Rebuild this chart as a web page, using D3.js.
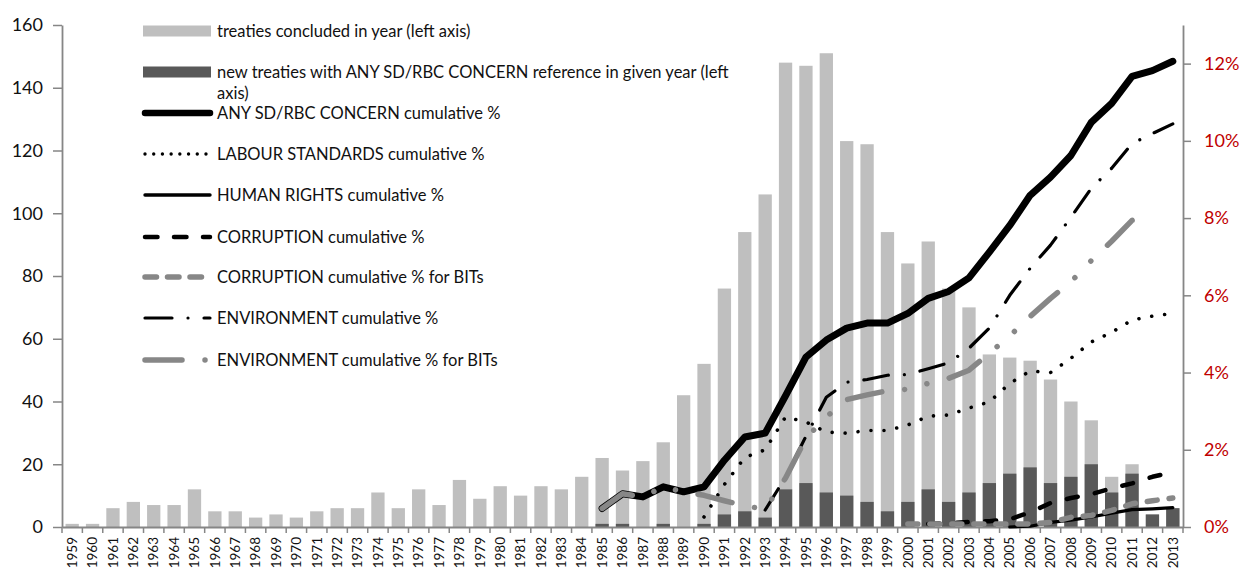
<!DOCTYPE html>
<html>
<head>
<meta charset="utf-8">
<script src="https://cdn.jsdelivr.net/npm/d3@7/dist/d3.min.js"></script>
<style>
  html, body { margin: 0; padding: 0; background: #fff; }
  svg { display: block; }
  text { font-family: Lato, "Liberation Sans", sans-serif; }
</style>
</head>
<body>
<div id="chart"></div>
<script>
// ---------------- DATA ----------------
const years = [1959,1960,1961,1962,1963,1964,1965,1966,1967,1968,1969,1970,1971,1972,1973,1974,1975,1976,1977,1978,
  1979,1980,1981,1982,1983,1984,1985,1986,1987,1988,1989,1990,1991,1992,1993,1994,1995,1996,1997,1998,
  1999,2000,2001,2002,2003,2004,2005,2006,2007,2008,2009,2010,2011,2012,2013];

// treaties concluded in year (left axis)
const treatiesTotal = [1,1,6,8,7,7,12,5,5,3, 4,3,5,6,6,11,6,12,7,15, 9,13,10,13,12,16,22,18,21,27,
  42,52,76,94,106,148,147,151,123,122, 94,84,91,76,70,55,54,53,47,40, 34,16,20,4,6];

// new treaties with ANY SD/RBC CONCERN reference in given year (left axis)
const treatiesSD = [0,0,0,0,0,0,0,0,0,0, 0,0,0,0,0,0,0,0,0,0, 0,0,0,0,0,0,1,1,0,1,
  0,1,4,5,3,12,14,11,10,8, 5,8,12,8,11,14,17,19,14,16, 20,11,17,4,6];

// cumulative % series (right axis), each with its first year
const anyStart = 1985;
const anyPct = [0.48,0.86,0.78,1.04,0.91,1.04,1.73,2.33,2.43,3.4,4.4,4.84,5.15,5.28,5.28,5.53,5.92,6.1,6.45,7.12,
  7.81,8.59,9.06,9.62,10.48,10.97,11.67,11.82,12.06];

const labourStart = 1990;
const labourPct = [0.26,1.1,1.8,2.0,2.85,2.72,2.46,2.43,2.5,2.5,2.64,2.87,2.9,3.08,3.24,3.72,4.04,4.0,4.37,4.79,
  5.04,5.36,5.46,5.53];

const humanStart = 2005;
const humanPct = [0,0.02,0.12,0.18,0.26,0.36,0.45,0.47,0.5];

const corrStart = 2001;
const corrPct = [0.08,0.1,0.13,0.15,0.2,0.38,0.62,0.75,0.85,1.0,1.13,1.3,1.42];

const corrBitsStart = 2000;
const corrBitsPct = [0.08,0.08,0.08,0.08,0.08,0.08,0.08,0.12,0.25,0.3,0.43,0.6,0.68,0.75];

const envStart = 1993;
const envPct = [0.44,1.29,2.35,3.36,3.75,3.82,3.93,3.95,4.1,4.25,4.63,5.15,6.0,6.7,7.3,8.02,8.77,9.29,9.93,10.19,10.44];

const envBitsStart = 1985;
const envBitsPct = [0.48,0.86,0.78,1.04,0.91,0.82,0.68,0.55,0.46,1.27,2.3,2.85,3.3,3.42,3.53,3.57,3.72,3.85,4.06,4.5,
  4.95,5.45,5.92,6.35,6.9,7.4,7.94,8.1];

const leftTicks = [0,20,40,60,80,100,120,140,160];
const rightTicks = [0,2,4,6,8,10,12];

const legendLabels = [
  "treaties concluded in year (left axis)",
  ["new treaties with ANY SD/RBC CONCERN reference in given year (left", "axis)"],
  "ANY SD/RBC CONCERN cumulative %",
  "LABOUR STANDARDS cumulative %",
  "HUMAN RIGHTS cumulative %",
  "CORRUPTION cumulative %",
  "CORRUPTION cumulative % for BITs",
  "ENVIRONMENT cumulative %",
  "ENVIRONMENT cumulative % for BITs"
];

// ---------------- CHART ----------------
const W = 1241, H = 570;
const svg = d3.select("#chart").append("svg").attr("width", W).attr("height", H);
svg.append("rect").attr("width", W).attr("height", H).attr("fill", "#fff");

const plotL = 62, plotR = 1183, plotT = 25, plotB = 527;
const x = d3.scaleBand().domain(years).range([plotL, plotR]).paddingInner(0).paddingOuter(0);
const yL = d3.scaleLinear().domain([0, 160]).range([plotB, plotT]);
const yR = d3.scaleLinear().domain([0, 13]).range([plotB, plotT]);
const barW = 13.3;
const cx = yr => x(yr) + x.bandwidth() / 2;

const axisColor = "#868686";
const lightBar = "#bfbfbf", darkBar = "#595959", grayLine = "#878787";
const textColor = "#111";

// bars
svg.append("g").selectAll("rect").data(years).join("rect")
  .attr("x", d => cx(d) - barW / 2)
  .attr("width", barW)
  .attr("y", (d, i) => yL(treatiesTotal[i]))
  .attr("height", (d, i) => yL(0) - yL(treatiesTotal[i]))
  .attr("fill", lightBar);

svg.append("g").selectAll("rect").data(years).join("rect")
  .attr("x", d => cx(d) - barW / 2)
  .attr("width", barW)
  .attr("y", (d, i) => yL(treatiesSD[i]))
  .attr("height", (d, i) => yL(0) - yL(treatiesSD[i]))
  .attr("fill", darkBar);

// axes
const gL = svg.append("g").attr("transform", `translate(${plotL},0)`)
  .call(d3.axisLeft(yL).tickValues(leftTicks).tickSize(9).tickSizeOuter(0).tickPadding(10));
gL.selectAll("text").attr("font-size", 18).attr("fill", textColor).attr("font-family", "Lato");

const gR = svg.append("g").attr("transform", `translate(${plotR},0)`)
  .call(d3.axisRight(yR).tickValues(rightTicks).tickSize(8).tickSizeOuter(0).tickPadding(13)
    .tickFormat(d => d + "%"));
gR.selectAll("text").attr("font-size", 18).attr("fill", "#c00000").attr("font-family", "Lato");

const gX = svg.append("g").attr("transform", `translate(0,${plotB})`)
  .call(d3.axisBottom(x).tickSize(0).tickSizeOuter(0));
gX.selectAll("text")
  .attr("transform", "rotate(-90)")
  .attr("x", -10).attr("y", 0).attr("dy", "0.35em")
  .attr("text-anchor", "end")
  .attr("font-size", 13.5).attr("fill", textColor).attr("font-family", "Lato");
// tick marks at category boundaries
gX.append("g").selectAll("line").data(years.concat([null])).join("line")
  .attr("x1", (d, i) => plotL + i * x.step())
  .attr("x2", (d, i) => plotL + i * x.step())
  .attr("y1", 0).attr("y2", 6)
  .attr("stroke", axisColor).attr("stroke-width", 1.5);

[gL, gR, gX].forEach(g => {
  g.select(".domain").attr("stroke", axisColor).attr("stroke-width", 1.8);
  g.selectAll(".tick line").attr("stroke", axisColor).attr("stroke-width", 1.5);
});

// lines
const line = d3.line().x(d => cx(d[0])).y(d => yR(d[1]));
const series = (start, vals) => vals.map((v, i) => [start + i, v]);

const lineStyles = [
  { data: series(anyStart, anyPct), color: "#000", w: 7, dash: null },
  { data: series(labourStart, labourPct), color: "#000", w: 3.6, dash: "0.01,13" },
  { data: series(humanStart, humanPct), color: "#000", w: 3.2, dash: null },
  { data: series(corrStart, corrPct), color: "#000", w: 4.5, dash: "11,17.5" },
  { data: series(corrBitsStart, corrBitsPct), color: grayLine, w: 5.5, dash: "10,12" },
  { data: series(envStart, envPct), color: "#000", w: 3.2, dash: "25,16,0.01,16" },
  { data: series(envBitsStart, envBitsPct), color: grayLine, w: 5.5, dash: "35,23,0.01,23,0.01,23" }
];

const gLines = svg.append("g");
lineStyles.forEach(s => {
  gLines.append("path")
    .attr("d", line(s.data))
    .attr("fill", "none")
    .attr("stroke", s.color)
    .attr("stroke-width", s.w)
    .attr("stroke-linejoin", "round")
    .attr("stroke-linecap", "round")
    .attr("stroke-dasharray", s.dash);
});

// legend
const legX0 = 143, legX1 = 211, legTextX = 217;
const legRows = [31, 72, 113, 154, 195, 237, 277, 318, 360];
const legFont = 16.5;
const legendMarkers = [
  { type: "rect", color: lightBar },
  { type: "rect", color: darkBar },
  { type: "line", color: "#000", w: 6.5, dash: null },
  { type: "line", color: "#000", w: 3.4, dash: "0.01,8.7" },
  { type: "line", color: "#000", w: 3.4, dash: null },
  { type: "line", color: "#000", w: 4.5, dash: "12.5,16.5" },
  { type: "line", color: grayLine, w: 5.5, dash: "11.5,11" },
  { type: "line", color: "#000", w: 3.2, dash: "27,16,0.01,16" },
  { type: "line", color: grayLine, w: 5.5, dash: "37,23,0.01,23" }
];
const gLeg = svg.append("g");
legendMarkers.forEach((m, i) => {
  const yy = legRows[i];
  if (m.type === "rect") {
    gLeg.append("rect").attr("x", legX0).attr("y", yy - 5.5).attr("width", legX1 - legX0).attr("height", 11)
      .attr("fill", m.color);
  } else {
    gLeg.append("line").attr("x1", legX0 + 2).attr("x2", legX1 - 1).attr("y1", yy).attr("y2", yy)
      .attr("stroke", m.color).attr("stroke-width", m.w).attr("stroke-linecap", "round")
      .attr("stroke-dasharray", m.dash);
  }
  const lab = legendLabels[i];
  const t = gLeg.append("text").attr("x", legTextX).attr("y", yy).attr("dy", "0.36em")
    .attr("font-size", legFont).attr("fill", textColor);
  if (Array.isArray(lab)) {
    t.text(lab[0]);
    gLeg.append("text").attr("x", legTextX).attr("y", yy + 21).attr("dy", "0.36em")
      .attr("font-size", legFont).attr("fill", textColor).text(lab[1]);
  } else {
    t.text(lab);
  }
});
</script>
</body>
</html>
